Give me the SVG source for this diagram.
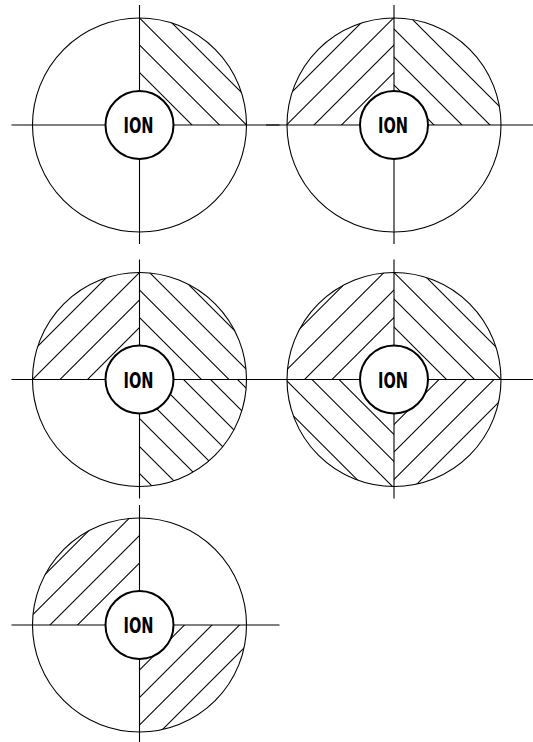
<svg xmlns="http://www.w3.org/2000/svg" width="533" height="742" viewBox="0 0 533 742">
<style>
.ax{stroke:#000;stroke-width:1.1;fill:none}
.h{stroke:#000;stroke-width:1.1;fill:none}
.ring{stroke:#000;stroke-width:1.1;fill:none}
.ion{stroke:#000;stroke-width:2;fill:#fff}
.t{font-family:"DejaVu Sans","Liberation Sans",sans-serif;font-weight:bold;font-size:22px;text-anchor:middle;fill:#000}
</style>
<defs>
<clipPath id="qTR"><path d="M0 0 L0 -107 A107 107 0 0 1 107 0 Z"/></clipPath>
<clipPath id="qTL"><path d="M0 0 L-107 0 A107 107 0 0 1 0 -107 Z"/></clipPath>
<clipPath id="qBR"><path d="M0 0 L107 0 A107 107 0 0 1 0 107 Z"/></clipPath>
<clipPath id="qBL"><path d="M0 0 L0 107 A107 107 0 0 1 -107 0 Z"/></clipPath>
<g id="axes"><line class="ax" x1="-128" y1="0" x2="140" y2="0"/><line class="ax" x1="0" y1="-120" x2="0" y2="119"/></g>
<g id="center"><circle class="ring" r="107"/><circle class="ion" r="34"/><text class="t" x="-1" y="8" textLength="30" lengthAdjust="spacingAndGlyphs">ION</text></g>
</defs>

<g id="diagram1" transform="translate(139.5,125)">
<use href="#axes"/>
<g clip-path="url(#qTR)" class="h">
<line x1="-150" y1="-202.5" x2="150" y2="97.5"/>
<line x1="-150" y1="-230" x2="150" y2="70"/>
<line x1="-150" y1="-257" x2="150" y2="43"/>
<line x1="-150" y1="-284.5" x2="150" y2="15.5"/>
</g>
<use href="#center"/>
</g>

<g id="diagram2" transform="translate(394,125)">
<use href="#axes"/>
<g clip-path="url(#qTL)" class="h">
<line x1="-150" y1="97.5" x2="150" y2="-202.5"/>
<line x1="-150" y1="70" x2="150" y2="-230"/>
<line x1="-150" y1="42.5" x2="150" y2="-257.5"/>
<line x1="-150" y1="15" x2="150" y2="-285"/>
</g>
<g clip-path="url(#qTR)" class="h">
<line x1="-150" y1="-190" x2="150" y2="110"/>
<line x1="-150" y1="-218" x2="150" y2="82"/>
<line x1="-150" y1="-246" x2="150" y2="54"/>
<line x1="-150" y1="-274" x2="150" y2="26"/>
</g>
<use href="#center"/>
</g>

<g id="diagram3" transform="translate(139.5,379.5)">
<use href="#axes"/>
<g clip-path="url(#qTL)" class="h">
<line x1="-150" y1="98" x2="150" y2="-202"/>
<line x1="-150" y1="70.5" x2="150" y2="-229.5"/>
<line x1="-150" y1="43" x2="150" y2="-257"/>
<line x1="-150" y1="15" x2="150" y2="-285"/>
</g>
<g clip-path="url(#qTR)" class="h">
<line x1="-150" y1="-185" x2="150" y2="115"/>
<line x1="-150" y1="-212" x2="150" y2="88"/>
<line x1="-150" y1="-239.5" x2="150" y2="60.5"/>
<line x1="-150" y1="-267" x2="150" y2="33"/>
<line x1="-150" y1="-294" x2="150" y2="6"/>
</g>
<g clip-path="url(#qBR)" class="h">
<line x1="-150" y1="-248" x2="150" y2="52"/>
<line x1="-150" y1="-221" x2="150" y2="79"/>
<line x1="-150" y1="-194" x2="150" y2="106"/>
<line x1="-150" y1="-166" x2="150" y2="134"/>
<line x1="-150" y1="-138" x2="150" y2="162"/>
<line x1="-150" y1="-111" x2="150" y2="189"/>
<line x1="-150" y1="-83" x2="150" y2="217"/>
<line x1="-150" y1="-56" x2="150" y2="244"/>
</g>
<use href="#center"/>
</g>

<g id="diagram4" transform="translate(394,379.5)">
<use href="#axes"/>
<g clip-path="url(#qTL)" class="h">
<line x1="-150" y1="88" x2="150" y2="-212"/>
<line x1="-150" y1="60.5" x2="150" y2="-239.5"/>
<line x1="-150" y1="33" x2="150" y2="-267"/>
<line x1="-150" y1="5" x2="150" y2="-295"/>
</g>
<g clip-path="url(#qTR)" class="h">
<line x1="-150" y1="-202.5" x2="150" y2="97.5"/>
<line x1="-150" y1="-230.5" x2="150" y2="69.5"/>
<line x1="-150" y1="-257" x2="150" y2="43"/>
<line x1="-150" y1="-284.5" x2="150" y2="15.5"/>
</g>
<g clip-path="url(#qBL)" class="h">
<line x1="-150" y1="-95" x2="150" y2="205"/>
<line x1="-150" y1="-68" x2="150" y2="232"/>
<line x1="-150" y1="-41.5" x2="150" y2="258.5"/>
<line x1="-150" y1="-13" x2="150" y2="287"/>
</g>
<g clip-path="url(#qBR)" class="h">
<line x1="-150" y1="195" x2="150" y2="-105"/>
<line x1="-150" y1="222.5" x2="150" y2="-77.5"/>
<line x1="-150" y1="250" x2="150" y2="-50"/>
<line x1="-150" y1="277.5" x2="150" y2="-22.5"/>
</g>
<use href="#center"/>
</g>

<g id="diagram5" transform="translate(139.5,625)">
<use href="#axes"/>
<g clip-path="url(#qTL)" class="h">
<line x1="-150" y1="88" x2="150" y2="-212"/>
<line x1="-150" y1="60.5" x2="150" y2="-239.5"/>
<line x1="-150" y1="33" x2="150" y2="-267"/>
<line x1="-150" y1="5" x2="150" y2="-295"/>
</g>
<g clip-path="url(#qBR)" class="h">
<line x1="-150" y1="195" x2="150" y2="-105"/>
<line x1="-150" y1="222.5" x2="150" y2="-77.5"/>
<line x1="-150" y1="250" x2="150" y2="-50"/>
<line x1="-150" y1="277.5" x2="150" y2="-22.5"/>
</g>
<use href="#center"/>
</g>
</svg>
